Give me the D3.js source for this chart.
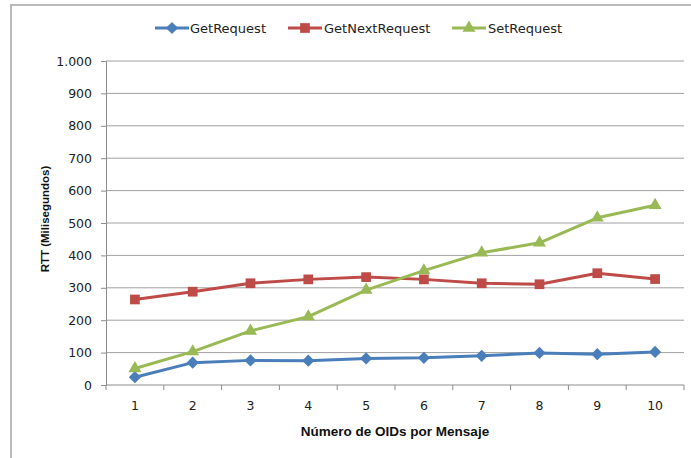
<!DOCTYPE html>
<html>
<head>
<meta charset="utf-8">
<script src="https://cdn.jsdelivr.net/npm/d3@7"></script>
<style>
  html, body { margin: 0; padding: 0; background: #fff; }
  svg { display: block; }
</style>
</head>
<body>
<svg id="chart" width="691" height="458"></svg>
<script>
// Number of OIDs per message
const categories = [1, 2, 3, 4, 5, 6, 7, 8, 9, 10];

// Round-trip time in milliseconds for each SNMP operation
const getRequest     = [24, 69, 76, 75, 82, 84, 90, 99, 95, 102];
const getNextRequest = [264, 288, 314, 326, 333, 326, 314, 311, 345, 327];
const setRequest     = [51, 103, 167, 211, 293, 353, 408, 439, 516, 555];

const seriesNames = ["GetRequest", "GetNextRequest", "SetRequest"];
const yTicks = [0, 100, 200, 300, 400, 500, 600, 700, 800, 900, 1000];

const yTitle = "RTT (Milisegundos)";
const xTitle = "Número de OIDs por Mensaje";

const series = [
  { name: seriesNames[0], values: getRequest,     color: "#4a7ebb", symbol: d3.symbolDiamond2, size: 95 },
  { name: seriesNames[1], values: getNextRequest, color: "#be4b48", symbol: d3.symbolSquare2,  size: 120 },
  { name: seriesNames[2], values: setRequest,     color: "#98b954", symbol: d3.symbolTriangle2, size: 120 }
];

const svg = d3.select("#chart");
const plot = { left: 106, right: 684, top: 61, bottom: 385 };

// Outer chart frame (top and left edges visible)
svg.append("path")
  .attr("d", "M11,460 L11,5 L693,5")
  .attr("fill", "none")
  .attr("stroke", "#bababa")
  .attr("stroke-width", 2);

const x = d3.scaleBand().domain(categories).range([plot.left, plot.right]);
const y = d3.scaleLinear().domain([0, 1000]).range([plot.bottom, plot.top]);

const fmt = d3.formatLocale({ decimal: ",", thousands: ".", grouping: [3], currency: ["", ""] }).format(",");

const tickFont = "DejaVu Sans, Verdana, sans-serif";

// Horizontal gridlines
svg.append("g")
  .selectAll("line")
  .data(yTicks.filter(d => d > 0))
  .join("line")
  .attr("x1", plot.left).attr("x2", plot.right)
  .attr("y1", d => y(d)).attr("y2", d => y(d))
  .attr("stroke", "#a0a0a0").attr("stroke-width", 1);

// Y axis
const yAxis = svg.append("g")
  .attr("transform", `translate(${plot.left},0)`)
  .call(d3.axisLeft(y).tickValues(yTicks).tickFormat(fmt).tickSize(5).tickPadding(9));
yAxis.select(".domain").attr("stroke", "#8c8c8c");
yAxis.selectAll(".tick line").attr("stroke", "#8c8c8c");
yAxis.selectAll("text")
  .attr("font-family", tickFont).attr("font-size", 12.5).attr("fill", "#222");

// X axis: labels centred in each category, ticks on category boundaries
const xAxis = svg.append("g")
  .attr("transform", `translate(0,${plot.bottom})`)
  .call(d3.axisBottom(x).tickSize(0).tickPadding(16));
xAxis.select(".domain").attr("stroke", "#8c8c8c").attr("d", `M${plot.left},0H${plot.right}`);
xAxis.selectAll("text")
  .attr("font-family", tickFont).attr("font-size", 12.5).attr("fill", "#222");

const boundaries = categories.map(c => x(c)).concat([x(categories[categories.length - 1]) + x.bandwidth()]);
svg.append("g")
  .selectAll("line")
  .data(boundaries)
  .join("line")
  .attr("x1", d => d).attr("x2", d => d)
  .attr("y1", plot.bottom).attr("y2", plot.bottom + 5)
  .attr("stroke", "#8c8c8c");

// Axis titles
svg.append("text")
  .attr("transform", `translate(45,${(plot.top + plot.bottom) / 2 - 4}) rotate(-90)`)
  .attr("text-anchor", "middle").attr("dominant-baseline", "central")
  .attr("font-family", "Liberation Sans, Arial, sans-serif").attr("font-weight", "bold")
  .attr("font-size", 11.5).attr("fill", "#111")
  .text(yTitle);

svg.append("text")
  .attr("x", (plot.left + plot.right) / 2).attr("y", 431)
  .attr("text-anchor", "middle").attr("dominant-baseline", "central")
  .attr("font-family", "Liberation Sans, Arial, sans-serif").attr("font-weight", "bold")
  .attr("font-size", 13.5).attr("fill", "#111")
  .text(xTitle);

// Series lines and markers
const cx = c => x(c) + x.bandwidth() / 2;
const line = d3.line().x((d, i) => cx(categories[i])).y(d => y(d));

series.forEach(s => {
  svg.append("path")
    .datum(s.values)
    .attr("d", line)
    .attr("fill", "none")
    .attr("stroke", s.color)
    .attr("stroke-width", 3)
    .attr("stroke-linejoin", "round");
  svg.append("g")
    .selectAll("path")
    .data(s.values)
    .join("path")
    .attr("transform", (d, i) => `translate(${cx(categories[i])},${y(d)})`)
    .attr("d", d3.symbol(s.symbol, s.size))
    .attr("fill", s.color);
});

// Legend
const legendItems = [
  { x0: 155, textX: 190 },
  { x0: 288, textX: 324 },
  { x0: 452, textX: 488 }
];
const legendY = 28;
series.forEach((s, i) => {
  const g = svg.append("g");
  const L = legendItems[i];
  g.append("line")
    .attr("x1", L.x0).attr("x2", L.x0 + 34)
    .attr("y1", legendY).attr("y2", legendY)
    .attr("stroke", s.color).attr("stroke-width", 3);
  g.append("path")
    .attr("transform", `translate(${L.x0 + 17},${legendY})`)
    .attr("d", d3.symbol(s.symbol, s.size))
    .attr("fill", s.color);
  g.append("text")
    .attr("x", L.textX).attr("y", legendY)
    .attr("dominant-baseline", "central")
    .attr("font-family", tickFont).attr("font-size", 13).attr("fill", "#222")
    .text(s.name);
});
</script>
</body>
</html>
